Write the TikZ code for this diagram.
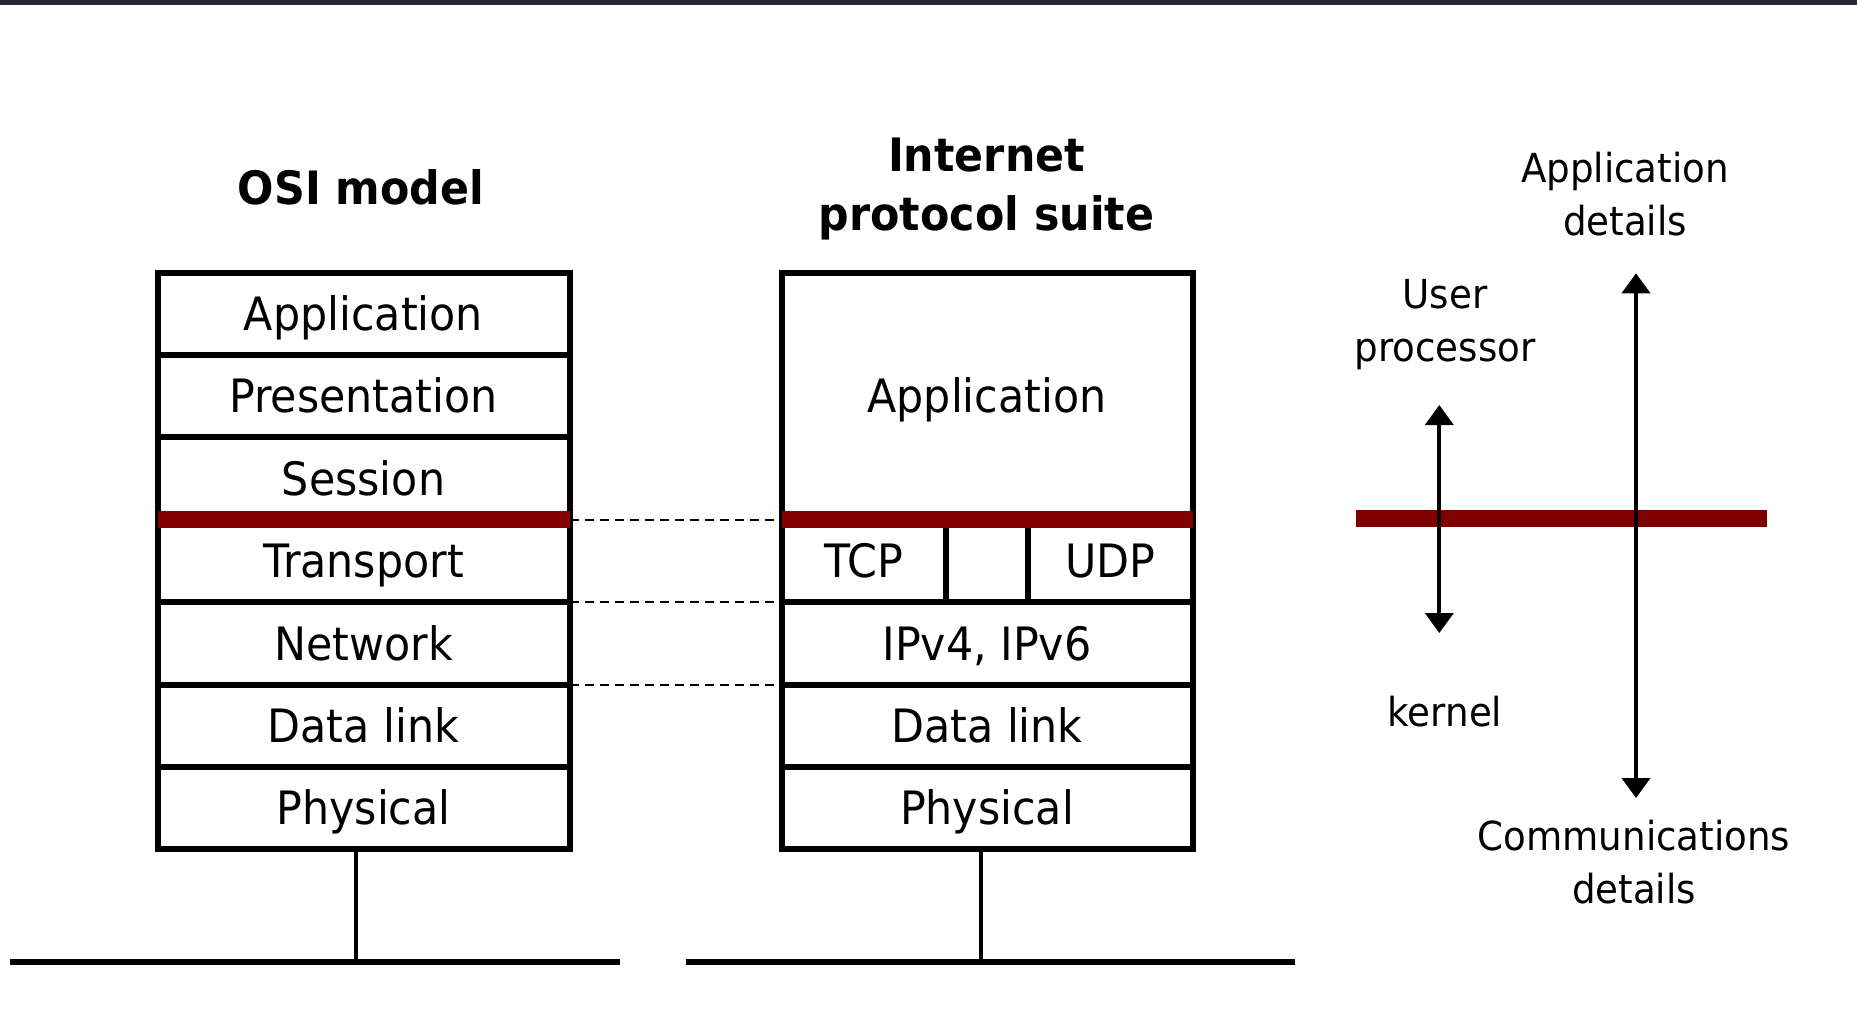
\documentclass[tikz,border=0pt]{standalone}
\usepackage{fontspec}
\setmainfont[FakeStretch=0.93]{DejaVu Sans}
\usetikzlibrary{arrows.meta}
\definecolor{barred}{RGB}{128,0,0}
\definecolor{topbar}{RGB}{38,40,53}
\begin{document}
\begin{tikzpicture}[x=1pt,y=-1pt,
  layer/.style={draw=black,line width=6pt,minimum width=412pt,minimum height=82.4pt,inner sep=0pt,outer sep=0pt,
    font=\fontsize{46}{55}\selectfont,text height=33.6pt,text depth=0pt},
  redbar/.style={draw=barred,line width=17pt},
  dashlink/.style={draw=black,line width=2pt,dash pattern=on 9pt off 6pt},
  stem/.style={draw=black,line width=4pt},
  ground/.style={draw=black,line width=6pt},
  title/.style={font=\bfseries\fontsize{46}{59}\selectfont,align=center,inner sep=0pt},
  lbl/.style={font=\fontsize{40}{53}\selectfont,align=center,inner sep=0pt},
  dblarrow/.style={draw=black,line width=4pt,{Triangle[width=28pt,length=20pt]}-{Triangle[width=28pt,length=20pt]}}
]
\useasboundingbox (0,0) rectangle (1857,1023);
\fill[white] (0,0) rectangle (1857,1023);
\fill[topbar] (0,0) rectangle (1857,5);

% titles
\node[title] (osititle) at (361,187) {OSI model};
\node[title] (iptitle) at (986.5,189.5) {Internet\\protocol suite};

% OSI stack
\node[layer] (osi1) at (363.5,313.7) {Application};
\node[layer] (osi2) at (363.5,396.1) {Presentation};
\node[layer] (osi3) at (363.5,478.5) {Session};
\node[layer] (osi4) at (363.5,560.9) {Transport};
\node[layer] (osi5) at (363.5,643.3) {Network};
\node[layer] (osi6) at (363.5,725.7) {Data link};
\node[layer] (osi7) at (363.5,808.1) {Physical};

% Internet stack
\node[layer,minimum width=411pt,minimum height=246.8pt] (iapp) at (987,395.9) {Application};
\node[layer,minimum width=164.4pt] (tcp) at (863.8,560.9) {TCP};
\node[layer,minimum width=82pt] (mid) at (987,560.9) {};
\node[layer,minimum width=164.6pt] (udp) at (1110.3,560.9) {UDP};
\node[layer,minimum width=411pt] (ip) at (987,643.3) {IPv4, IPv6};
\node[layer,minimum width=411pt] (dl2) at (987,725.7) {Data link};
\node[layer,minimum width=411pt] (ph2) at (987,808.1) {Physical};

% dashed links
\draw[dashlink] (osi4.north east) -- (tcp.north west);
\draw[dashlink] (osi5.north east) -- (ip.north west);
\draw[dashlink] (osi6.north east) -- (dl2.north west);

% red bars
\draw[redbar] (osi4.north west) -- (osi4.north east);
\draw[redbar] (tcp.north west) -- (udp.north east);

% stems and ground lines
\coordinate (s1) at (356,851);
\coordinate (g1) at (356,962);
\coordinate (s2) at (981,851);
\coordinate (g2) at (981,962);
\coordinate (l1a) at (10,962);
\coordinate (l1b) at (620,962);
\coordinate (l2a) at (686,962);
\coordinate (l2b) at (1295,962);
\draw[stem] (s1) -- (g1);
\draw[stem] (s2) -- (g2);
\draw[ground] (l1a) -- (l1b);
\draw[ground] (l2a) -- (l2b);

% right side
\coordinate (ra) at (1356,518.3);
\coordinate (rb) at (1767,518.3);
\draw[redbar] (ra) -- (rb);
\coordinate (a1t) at (1439.3,405);
\coordinate (a1b) at (1439.3,633);
\coordinate (a2t) at (1636,273.3);
\coordinate (a2b) at (1636,798);
\draw[dblarrow] (a1b) -- (a1t);
\draw[dblarrow] (a2b) -- (a2t);

\node[lbl] (user) at (1445,325) {User\\processor};
\node[lbl] (kernel) at (1445,712) {kernel};
\node[lbl] (appd) at (1625,194) {Application\\details};
\node[lbl] (comm) at (1634,862) {Communications\\details};
\end{tikzpicture}
\end{document}
